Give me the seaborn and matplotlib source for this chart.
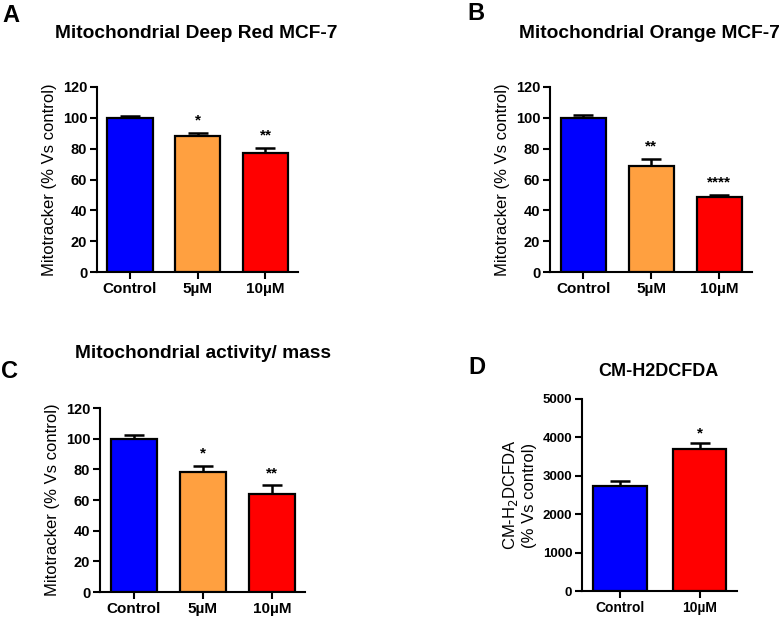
import numpy as np
import pandas as pd
import matplotlib
matplotlib.use("Agg")
import matplotlib.pyplot as plt
import seaborn as sns

sns.set_style("ticks")
plt.rcParams['font.family'] = ['Liberation Sans', 'DejaVu Sans']
plt.rcParams['text.color'] = 'black'
plt.rcParams['axes.labelcolor'] = 'black'
plt.rcParams['xtick.color'] = 'black'
plt.rcParams['ytick.color'] = 'black'
plt.rcParams['axes.edgecolor'] = 'black'

# ---- data ----
cats3 = ["Control", "5\u00b5M", "10\u00b5M"]
cats2 = ["Control", "10\u00b5M"]

vals_a = [100, 88, 77]
errs_a = [1.5, 2.0, 3.5]
stars_a = ["", "*", "**"]

vals_b = [100, 69, 48.5]
errs_b = [1.8, 4.5, 1.5]
stars_b = ["", "**", "****"]

vals_c = [100, 78.5, 64]
errs_c = [2.3, 3.5, 5.5]
stars_c = ["", "*", "**"]

vals_d = [2730, 3690]
errs_d = [140, 160]
stars_d = ["", "*"]

titles = ["Mitochondrial Deep Red MCF-7", "Mitochondrial Orange MCF-7",
          "Mitochondrial activity/ mass", "CM-H2DCFDA"]
panel_letters = ["A", "B", "C", "D"]

colors3 = ["#0000FF", "#FFA040", "#FF0000"]
colors2 = ["#0000FF", "#FF0000"]

W, H = 781, 617
fig = plt.figure(figsize=(W / 100, H / 100), dpi=100)

def fr(x0, y0, x1, y1):
    return [x0 / W, 1 - y1 / H, (x1 - x0) / W, (y1 - y0) / H]

def panel(rect, cats, vals, errs, stars, colors, ylim, yticks, ylabel,
          title, title_xy, title_size, ytick_size, xtick_size, ylabel_size,
          xlim, width, star_off):
    ax = fig.add_axes(rect)
    df = pd.DataFrame({"cat": cats, "val": vals})
    sns.barplot(data=df, x="cat", y="val", hue="cat", palette=colors,
                order=cats, hue_order=cats, dodge=False, legend=False,
                errorbar=None, edgecolor="black", linewidth=1.6, saturation=1,
                width=width, ax=ax, zorder=3)
    xs = np.arange(len(cats))
    ax.errorbar(xs, vals, yerr=[np.zeros(len(vals)), errs], fmt="none",
                ecolor="black", elinewidth=1.8, capsize=7, capthick=1.8, zorder=2)
    for x, v, e, s in zip(xs, vals, errs, stars):
        if s:
            ax.text(x, v + e + star_off, s, ha="center", va="bottom",
                    fontsize=11, fontweight="bold")
    ax.set_ylim(*ylim)
    ax.set_yticks(yticks)
    ax.set_xlim(*xlim)
    ax.set_xlabel("")
    ax.set_ylabel(ylabel, fontsize=ylabel_size, labelpad=4)
    for lab in ax.get_yticklabels():
        lab.set_fontweight("bold")
        lab.set_fontsize(ytick_size)
    for lab in ax.get_xticklabels():
        lab.set_fontweight("bold")
        lab.set_fontsize(xtick_size)
    ax.tick_params(axis="both", direction="out", length=5, width=1.5, pad=2)
    for sp in ["left", "bottom"]:
        ax.spines[sp].set_linewidth(1.5)
    sns.despine(ax=ax)
    fig.text(title_xy[0] / W, 1 - title_xy[1] / H, title, ha="center", va="center",
             fontsize=title_size, fontweight="bold")
    return ax

yt = [0, 20, 40, 60, 80, 100, 120]
panel(fr(97, 87, 298, 272), cats3, vals_a, errs_a, stars_a, colors3,
      (0, 120), yt, "Mitotracker (% Vs control)",
      titles[0], (196, 33), 13.8, 10.5, 11, 12, (-0.487, 2.48), 0.665, 3.5)
panel(fr(550, 87, 752, 272), cats3, vals_b, errs_b, stars_b, colors3,
      (0, 120), yt, "Mitotracker (% Vs control)",
      titles[1], (649, 33), 13.8, 10.5, 11, 12, (-0.487, 2.48), 0.665, 3.5)
panel(fr(100, 408, 305, 592), cats3, vals_c, errs_c, stars_c, colors3,
      (0, 120), yt, "Mitotracker (% Vs control)",
      titles[2], (203, 353), 13.8, 10.5, 11, 12, (-0.487, 2.48), 0.665, 3.5)
panel(fr(582, 399, 737, 591), cats2, vals_d, errs_d, stars_d, colors2,
      (0, 5000), [0, 1000, 2000, 3000, 4000, 5000],
      "CM-H$_2$DCFDA\n(% Vs control)",
      titles[3], (658, 372), 13, 9.5, 10, 12, (-0.478, 1.47), 0.67, 60)

letter_pos = [(11, 15), (476, 13), (10, 372), (477, 368)]
for (lx, ly), L in zip(letter_pos, panel_letters):
    fig.text(lx / W, 1 - ly / H, L, ha="center", va="center",
             fontsize=17, fontweight="bold")

fig.savefig("out.png", dpi=100)
